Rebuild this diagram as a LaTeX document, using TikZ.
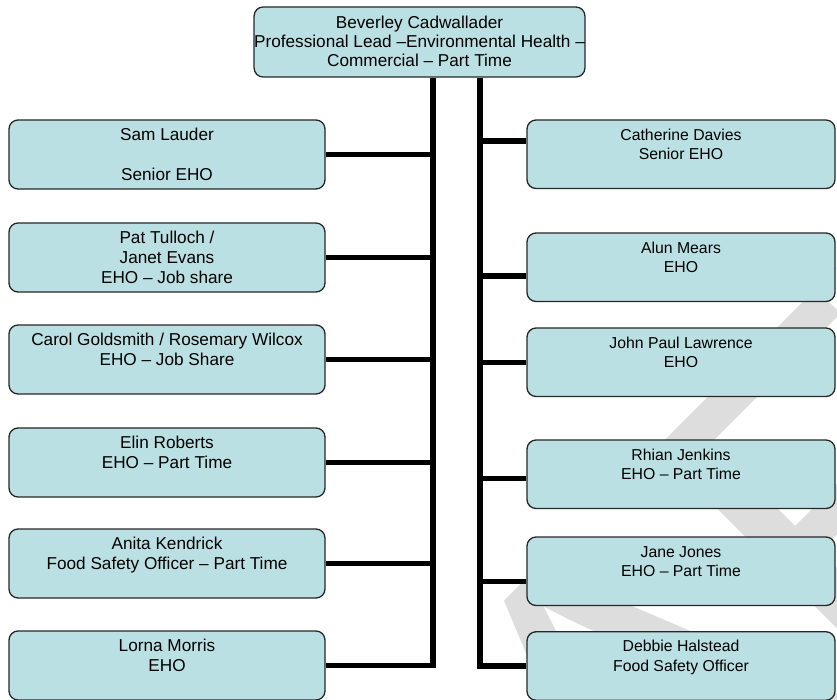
\documentclass[tikz,border=0pt]{standalone}
\usepackage{fontspec}
\setmainfont{Liberation Sans}
\definecolor{boxfill}{RGB}{187,224,227}
\definecolor{wmgrey}{RGB}{221,221,221}
\newcommand\lstrut{\rule[-2.5pt]{0pt}{17.5pt}}
\newcommand\hstrut{\rule[-2.8pt]{0pt}{16.4pt}}
\newcommand\rstrut{\rule[-3pt]{0pt}{16.3pt}}
\begin{document}
\begin{tikzpicture}[x=1pt,y=-1pt,
  box/.style={draw=black!85, line width=1.3pt, fill=boxfill, rounded corners=9pt, inner sep=0pt, align=center},
  lbox/.style={box, minimum width=316pt, minimum height=69pt, font=\fontsize{17.2}{20}\selectfont},
  hbox/.style={box, minimum width=327pt, minimum height=70pt, font=\fontsize{17.2}{19.2}\selectfont},
  rbox/.style={box, minimum width=308pt, minimum height=68.5pt, font=\fontsize{15.8}{19.3}\selectfont},
  bus/.style={line width=5.5pt, line join=miter, draw=black}]
\useasboundingbox (0,0) rectangle (837,700);
% watermark
\begin{scope}
  \clip (0,0) rectangle (837,700);
  \node[anchor=base west, rotate=45, inner sep=0pt, text=wmgrey, font=\fontsize{461}{461}\selectfont] (wm) at (166,1388) {DRAFT};
\end{scope}
% head
\node[hbox] (head) at (419.5,42) {\hstrut Beverley Cadwallader\\\hstrut Professional Lead –Environmental Health –\\\hstrut Commercial – Part Time};
% left column
\node[lbox] (sam)   at (167,154.5) {\lstrut Sam Lauder\\\lstrut\\\lstrut Senior EHO};
\node[lbox] (pat)   at (167,257.5) {\lstrut Pat Tulloch /\\\lstrut Janet Evans\\\lstrut EHO – Job share};
\node[lbox] (carol) at (167,359.5) {\lstrut Carol Goldsmith / Rosemary Wilcox\\\lstrut EHO – Job Share\\\lstrut};
\node[lbox] (elin)  at (167,462.5) {\lstrut Elin Roberts\\\lstrut EHO – Part Time\\\lstrut};
\node[lbox] (anita) at (167,563.5) {\lstrut Anita Kendrick\\\lstrut Food Safety Officer – Part Time\\\lstrut};
\node[lbox] (lorna) at (167,665.5) {\lstrut Lorna Morris\\\lstrut EHO\\\lstrut};
% right column
\node[rbox] (cath)   at (681,154.25) {\rstrut Catherine Davies\\\rstrut Senior EHO\\\rstrut};
\node[rbox] (alun)   at (681,267.25) {\rstrut Alun Mears\\\rstrut EHO\\\rstrut};
\node[rbox] (jpl)    at (681,362.25) {\rstrut John Paul Lawrence\\\rstrut EHO\\\rstrut};
\node[rbox] (rhian)  at (681,474.25) {\rstrut Rhian Jenkins\\\rstrut EHO – Part Time\\\rstrut};
\node[rbox] (jane)   at (681,571.25) {\rstrut Jane Jones\\\rstrut EHO – Part Time\\\rstrut};
\node[rbox] (debbie) at (681,666)    {\rstrut Debbie Halstead\\\rstrut Food Safety Officer\\\rstrut};
% buses
\coordinate (lbus) at (433,665.5);
\coordinate (rbus) at (480,666);
\draw[bus] (head.south -| lbus) -- (lbus) -- (lorna.east);
\draw[bus] (head.south -| rbus) -- (rbus) -- (debbie.west);
\foreach \n in {sam,pat,carol,elin,anita}{
  \draw[bus] (\n.east) -- (\n.east -| lbus);
}
\draw[bus] ([yshift=13pt]cath.west) -- ([yshift=13pt]cath.west -| rbus);
\draw[bus] ([yshift=-9pt]alun.west) -- ([yshift=-9pt]alun.west -| rbus);
\draw[bus] (jpl.west) -- (jpl.west -| rbus);
\draw[bus] ([yshift=-4pt]rhian.west) -- ([yshift=-4pt]rhian.west -| rbus);
\draw[bus] ([yshift=-10pt]jane.west) -- ([yshift=-10pt]jane.west -| rbus);
\end{tikzpicture}
\end{document}
